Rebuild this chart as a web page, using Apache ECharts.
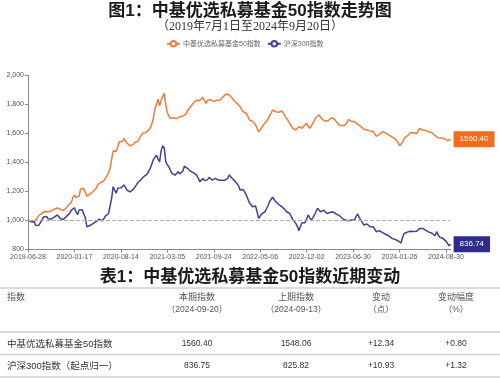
<!DOCTYPE html>
<html><head><meta charset="utf-8">
<script src="https://cdn.jsdelivr.net/npm/echarts@6/dist/echarts.min.js"></script>
<style>html,body{margin:0;padding:0;background:#fff}#c{width:500px;height:378px}</style>
</head><body><div id="c"></div>
<script>
const dates = [
'2019-06-28','2019-07-05','2019-07-12','2019-07-19','2019-07-26','2019-08-02','2019-08-09','2019-08-16','2019-08-23','2019-08-30',
'2019-09-06','2019-09-13','2019-09-20','2019-09-27','2019-09-30','2019-10-11','2019-10-18','2019-10-25','2019-11-01','2019-11-08',
'2019-11-15','2019-11-22','2019-11-29','2019-12-06','2019-12-13','2019-12-20','2019-12-27','2019-12-31','2020-01-03','2020-01-10',
'2020-01-17','2020-01-23','2020-02-07','2020-02-14','2020-02-21','2020-02-28','2020-03-06','2020-03-13','2020-03-20','2020-03-27',
'2020-04-03','2020-04-10','2020-04-17','2020-04-24','2020-04-30','2020-05-08','2020-05-15','2020-05-22','2020-05-29','2020-06-05',
'2020-06-12','2020-06-19','2020-06-24','2020-06-30','2020-07-03','2020-07-10','2020-07-17','2020-07-24','2020-07-31','2020-08-07',
'2020-08-14','2020-08-21','2020-08-28','2020-09-04','2020-09-11','2020-09-18','2020-09-25','2020-09-30','2020-10-09','2020-10-16',
'2020-10-23','2020-10-30','2020-11-06','2020-11-13','2020-11-20','2020-11-27','2020-11-30','2020-12-04','2020-12-11','2020-12-18',
'2020-12-25','2020-12-31','2021-01-08','2021-01-15','2021-01-22','2021-01-29','2021-02-05','2021-02-10','2021-02-19','2021-02-26',
'2021-03-05','2021-03-12','2021-03-19','2021-03-26','2021-04-02','2021-04-09','2021-04-16','2021-04-23','2021-04-30','2021-05-07',
'2021-05-14','2021-05-21','2021-05-28','2021-06-04','2021-06-11','2021-06-18','2021-06-25','2021-06-30','2021-07-02','2021-07-09',
'2021-07-16','2021-07-23','2021-07-30','2021-08-06','2021-08-13','2021-08-20','2021-08-27','2021-09-03','2021-09-10','2021-09-17',
'2021-09-24','2021-10-08','2021-10-15','2021-10-22','2021-10-29','2021-11-05','2021-11-12','2021-11-19','2021-11-26','2021-12-03',
'2021-12-10','2021-12-17','2021-12-24','2021-12-31','2022-01-07','2022-01-14','2022-01-21','2022-01-28','2022-02-11','2022-02-18',
'2022-02-25','2022-03-04','2022-03-11','2022-03-18','2022-03-25','2022-04-01','2022-04-08','2022-04-15','2022-04-22','2022-04-29',
'2022-05-06','2022-05-13','2022-05-20','2022-05-27','2022-06-02','2022-06-10','2022-06-17','2022-06-24','2022-06-30','2022-07-01',
'2022-07-08','2022-07-15','2022-07-22','2022-07-29','2022-08-05','2022-08-12','2022-08-19','2022-08-26','2022-09-02','2022-09-09',
'2022-09-16','2022-09-23','2022-09-30','2022-10-14','2022-10-21','2022-10-28','2022-11-04','2022-11-11','2022-11-18','2022-11-25',
'2022-12-02','2022-12-09','2022-12-16','2022-12-23','2022-12-30','2023-01-06','2023-01-13','2023-01-20','2023-02-03','2023-02-10',
'2023-02-17','2023-02-24','2023-03-03','2023-03-10','2023-03-17','2023-03-24','2023-03-31','2023-04-07','2023-04-14','2023-04-21',
'2023-04-28','2023-05-05','2023-05-12','2023-05-19','2023-05-26','2023-05-31','2023-06-02','2023-06-09','2023-06-16','2023-06-21',
'2023-06-30','2023-07-07','2023-07-14','2023-07-21','2023-07-28','2023-08-04','2023-08-11','2023-08-18','2023-08-25','2023-08-31',
'2023-09-01','2023-09-08','2023-09-15','2023-09-22','2023-09-28','2023-10-13','2023-10-20','2023-10-27','2023-11-03','2023-11-10',
'2023-11-17','2023-11-24','2023-12-01','2023-12-08','2023-12-15','2023-12-22','2023-12-29','2024-01-05','2024-01-12','2024-01-19',
'2024-01-26','2024-02-02','2024-02-08','2024-02-23','2024-03-01','2024-03-08','2024-03-15','2024-03-22','2024-03-29','2024-04-03',
'2024-04-12','2024-04-19','2024-04-26','2024-04-30','2024-05-10','2024-05-17','2024-05-24','2024-05-31','2024-06-07','2024-06-14',
'2024-06-21','2024-06-28','2024-07-05','2024-07-12','2024-07-19','2024-07-26','2024-08-02','2024-08-09','2024-08-16','2024-08-23',
'2024-08-30','2024-09-06','2024-09-13','2024-09-20'
];
const fundIndex = [
1000,995,990,985,988,1005,1020,1035,1045,1050,
1058,1062,1055,1060,1068,1065,1072,1078,1082,1086,
1080,1076,1072,1070,1075,1090,1105,1112,1125,1158,
1175,1160,1150,1168,1218,1205,1222,1195,1168,1175,
1182,1188,1200,1212,1222,1245,1256,1262,1268,1275,
1290,1310,1328,1360,1420,1480,1470,1478,1510,1543,
1535,1545,1567,1548,1533,1520,1515,1509,1525,1540,
1550,1545,1567,1585,1601,1598,1606,1612,1625,1640,
1665,1705,1774,1797,1836,1790,1830,1854,1877,1797,
1745,1720,1705,1698,1708,1712,1702,1698,1715,1727,
1720,1716,1735,1755,1765,1785,1795,1812,1825,1830,
1836,1828,1820,1850,1825,1808,1830,1843,1832,1820,
1822,1827,1830,1826,1830,1842,1854,1862,1872,1868,
1865,1858,1843,1828,1815,1808,1795,1785,1765,1750,
1745,1740,1720,1693,1690,1685,1682,1660,1635,1612,
1620,1640,1659,1670,1682,1700,1720,1740,1762,1758,
1750,1752,1747,1750,1755,1740,1720,1705,1690,1670,
1655,1636,1630,1624,1632,1647,1640,1636,1650,1660,
1670,1650,1636,1652,1670,1690,1712,1722,1728,1712,
1698,1690,1685,1682,1690,1698,1708,1716,1700,1682,
1670,1659,1655,1654,1656,1659,1675,1698,1690,1682,
1682,1682,1675,1663,1655,1647,1640,1629,1626,1624,
1620,1618,1617,1614,1612,1580,1585,1594,1600,1612,
1608,1605,1598,1590,1582,1576,1574,1565,1555,1540,
1515,1505,1540,1567,1575,1583,1592,1605,1603,1605,
1605,1598,1590,1636,1630,1624,1622,1620,1615,1612,
1608,1605,1595,1585,1578,1570,1562,1568,1574,1565,
1555,1550,1548.06,1560.40
];
const csi300 = [
1000,1005,998,1003,990,965,952,968,985,1000,
1025,1038,1028,1012,1003,1010,1018,1024,1030,1038,
1025,1012,1003,1008,1020,1030,1038,1050,1072,1080,
1088,1060,1040,1072,1065,1075,1045,1022,957,962,
965,970,978,985,992,1000,1010,1004,998,1012,
1030,1038,1048,1060,1150,1233,1210,1188,1222,1215,
1225,1235,1245,1232,1210,1205,1198,1195,1215,1230,
1245,1262,1275,1282,1290,1305,1312,1320,1340,1360,
1390,1420,1435,1450,1425,1405,1480,1515,1500,1405,
1385,1371,1345,1325,1318,1313,1325,1336,1322,1313,
1340,1375,1370,1360,1350,1340,1336,1328,1320,1313,
1290,1268,1280,1290,1275,1268,1282,1297,1288,1279,
1285,1290,1282,1278,1275,1278,1279,1276,1275,1290,
1314,1305,1290,1280,1268,1260,1240,1210,1215,1213,
1195,1176,1150,1123,1110,1095,1098,1100,1060,1015,
1030,1045,1050,1060,1072,1100,1130,1145,1160,1145,
1130,1123,1110,1100,1095,1088,1075,1060,1055,1050,
1030,1008,995,980,960,930,960,984,980,984,
1010,1038,1020,1003,1020,1038,1060,1084,1075,1060,
1065,1072,1060,1048,1038,1055,1068,1060,1050,1045,
1040,1035,1022,1015,1008,1003,1000,998,1000,1003,
1005,1003,1030,1045,1020,1003,985,969,972,976,
965,957,960,957,945,923,925,930,922,916,
910,905,900,895,888,878,865,870,877,860,
855,845,885,910,916,920,923,926,930,924,
916,925,934,945,957,945,934,932,930,920,
915,912,905,895,923,900,884,880,877,870,
858,850,825.82,836.74
];
const seriesNames = ['中基优选私募基金50指数', '沪深300指数'];
const baseLine = 1000;
const chartTitle = '图1：中基优选私募基金50指数走势图';
const chartSubtitle = '（2019年7月1日至2024年9月20日）';
const tableTitle = '表1：中基优选私募基金50指数近期变动';
const tableHeader = [['指数', ''], ['本期指数', '（2024-09-20）'], ['上期指数', '（2024-09-13）'], ['变动', '（点）'], ['变动幅度', '（%）']];
const tableRows = [
  ['中基优选私募基金50指数', '1560.40', '1548.06', '+12.34', '+0.80'],
  ['沪深300指数（起点归一）', '836.75', '825.82', '+10.93', '+1.32']
];

const FONT = "'Liberation Sans', 'Noto Sans CJK SC', sans-serif";
const colX = [7, 197, 296, 381, 456];
const lineYs = [288, 332, 354.5, 377];
const graphics = [];
lineYs.forEach(y => graphics.push({type: 'line', shape: {x1: 0, y1: y, x2: 500, y2: y}, style: {stroke: '#cfcfcf', lineWidth: 1.5}, silent: true}));
tableHeader.forEach((h, i) => {
  graphics.push({type: 'text', x: colX[i], y: 298, style: {text: h[0], fill: '#555', fontSize: 9, fontFamily: FONT, align: i === 0 ? 'left' : 'center', verticalAlign: 'middle'}});
  if (h[1]) graphics.push({type: 'text', x: colX[i], y: 309.5, style: {text: h[1], fill: '#555', fontSize: 8.5, fontFamily: FONT, align: 'center', verticalAlign: 'middle'}});
});
const rowY = [344, 366];
tableRows.forEach((r, ri) => {
  r.forEach((t, i) => {
    graphics.push({type: 'text', x: colX[i], y: rowY[ri], style: {text: t, fill: '#333', fontSize: i === 0 ? 9.5 : 8.5, fontFamily: FONT, align: i === 0 ? 'left' : 'center', verticalAlign: 'middle'}});
  });
});

const chart = echarts.init(document.getElementById('c'), null, {renderer: 'canvas'});
chart.setOption({
  animation: false,
  backgroundColor: '#fff',
  textStyle: {fontFamily: FONT},
  title: [
    {text: chartTitle, left: 'center', top: 3, padding: 0, textStyle: {fontSize: 17, fontWeight: 'bold', color: '#1a1a1a', fontFamily: FONT}},
    {text: chartSubtitle, left: 'center', top: 21, padding: 0, textStyle: {fontSize: 12, fontWeight: 'normal', color: '#333', fontFamily: "'Liberation Serif', 'Noto Sans CJK SC', serif"}},
    {text: tableTitle, left: 'center', top: 269, padding: 0, textStyle: {fontSize: 17, fontWeight: 'bold', color: '#1a1a1a', fontFamily: FONT}}
  ],
  legend: {
    data: seriesNames, left: 166, top: 40, padding: 0, itemWidth: 13, itemHeight: 7, itemGap: 6,
    textStyle: {fontSize: 7, color: '#666', padding: [0, 0, 0, -2]}
  },
  grid: {left: 28, right: 49.4, top: 75.5, bottom: 128.5, containLabel: false},
  xAxis: {
    type: 'category', data: dates, boundaryGap: false,
    axisLine: {lineStyle: {color: '#888', width: 1}},
    axisTick: {interval: 29, length: 3, lineStyle: {color: '#888'}},
    axisLabel: {interval: 29, fontSize: 7, color: '#555', margin: 4}
  },
  yAxis: {
    type: 'value', min: 800, max: 2000, interval: 200,
    splitLine: {show: false},
    axisLine: {show: true, lineStyle: {color: '#888', width: 1}},
    axisTick: {show: true, length: 3, lineStyle: {color: '#888'}},
    axisLabel: {fontSize: 7, color: '#555', margin: 4, formatter: v => v.toLocaleString('en-US')}
  },
  series: [
    {
      name: seriesNames[0], type: 'line', data: fundIndex, showSymbol: false, symbol: 'emptyCircle', symbolSize: 5,
      lineStyle: {color: '#ee7d3c', width: 1.5}, itemStyle: {color: '#ee7d3c'},
      endLabel: {show: true, distance: 3, formatter: p => Number(p.value).toFixed(2), color: '#fff', backgroundColor: '#f26b1f', padding: [4, 6], fontSize: 8, lineHeight: 8},
      markLine: {silent: true, symbol: 'none', label: {show: false}, lineStyle: {color: '#aaa', type: 'dashed', width: 1}, data: [{yAxis: baseLine}]}
    },
    {
      name: seriesNames[1], type: 'line', data: csi300, showSymbol: false, symbol: 'emptyCircle', symbolSize: 5,
      lineStyle: {color: '#423f94', width: 1.5}, itemStyle: {color: '#423f94'},
      endLabel: {show: true, distance: 3, formatter: p => Number(p.value).toFixed(2), color: '#fff', backgroundColor: '#2e2b8a', padding: [4, 6], fontSize: 8, lineHeight: 8}
    }
  ],
  graphic: graphics
});
</script>
</body></html>
